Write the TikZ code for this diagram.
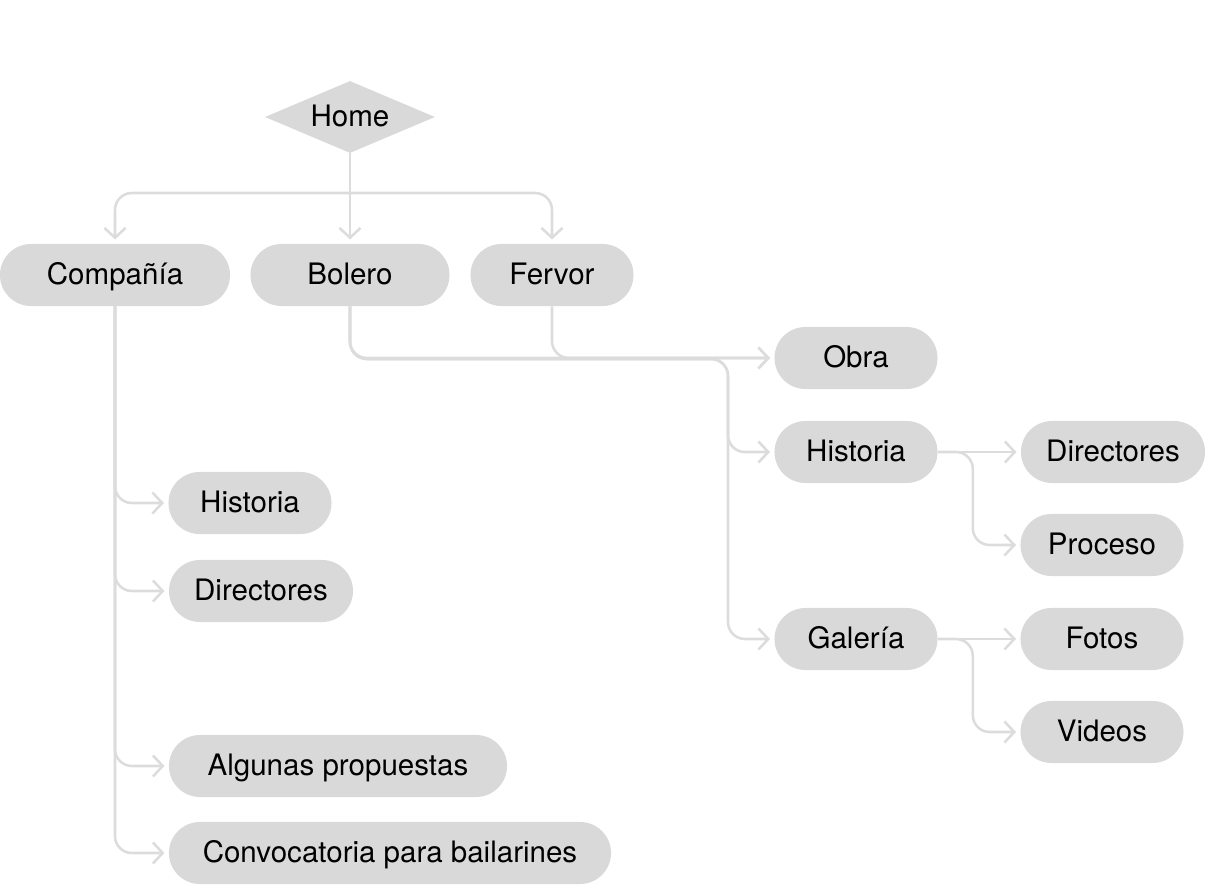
\documentclass[tikz,border=0pt]{standalone}
\usepackage{fontspec}
\setmainfont{TeX Gyre Heros}
\usetikzlibrary{shapes.geometric,arrows.meta}

\definecolor{boxgray}{HTML}{D9D9D9}
\definecolor{linegray}{HTML}{DCDCDC}

\tikzset{
  pill/.style={fill=boxgray, rounded corners=0.775cm, minimum height=1.55cm,
               inner sep=0pt, text height=15pt, text depth=2pt},
  link/.style={draw=linegray, line width=1.8pt, rounded corners=12pt,
               -{Straight Barb[length=7pt,width=15pt]}, shorten >=3pt},
}

\begin{document}
\begin{tikzpicture}[x=0.025cm, y=-0.025cm, font=\fontsize{21}{25}\selectfont]
  \useasboundingbox (0,0) rectangle (1206,886);

  \node[diamond, fill=boxgray, aspect=2.36, minimum width=4.25cm,
        minimum height=1.8cm, inner sep=0pt, text height=15pt, text depth=2pt]
        (home) at (350,117) {Home};

  \node[pill, minimum width=5.75cm]  (compania) at (115,275) {Compañía};
  \node[pill, minimum width=4.975cm] (bolero)   at (350,275) {Bolero};
  \node[pill, minimum width=4.075cm] (fervor)   at (552,275) {Fervor};

  \node[pill, minimum width=4.075cm] (obra)      at (856,358) {Obra};
  \node[pill, minimum width=4.075cm] (historiaB) at (856,452) {Historia};
  \node[pill, minimum width=4.075cm] (galeria)   at (856,639) {Galería};

  \node[pill, minimum width=4.6cm]   (directoresB) at (1113,452) {Directores};
  \node[pill, minimum width=4.075cm] (proceso)     at (1102,545) {Proceso};
  \node[pill, minimum width=4.075cm] (fotos)       at (1102,639) {Fotos};
  \node[pill, minimum width=4.075cm] (videos)      at (1102,732) {Videos};

  \node[pill, minimum width=4.075cm] (historiaA)    at (250,503) {Historia};
  \node[pill, minimum width=4.6cm]   (directoresA)  at (261,591) {Directores};
  \node[pill, minimum width=8.45cm]  (propuestas)   at (338,766) {Algunas propuestas};
  \node[pill, minimum width=11.05cm] (convocatoria) at (390,853) {Convocatoria para bailarines};

  \coordinate (hsplit) at (350,193);
  \coordinate (osplit) at (728,359);

  \draw[link] (home.south) -- (bolero.north);
  \draw[link] (hsplit) -| (compania.north);
  \draw[link] (hsplit) -| (fervor.north);

  \draw[link] (bolero.south) |- (obra.west);
  \draw[link] (fervor.south) |- (obra.west);
  \draw[link] (bolero.south) |- (osplit) |- (historiaB.west);
  \draw[link] (bolero.south) |- (osplit) |- (galeria.west);

  \draw[link] (historiaB.east) -- (directoresB.west);
  \draw[link] (historiaB.east) -- ++(35,0) |- (proceso.west);
  \draw[link] (galeria.east) -- (fotos.west);
  \draw[link] (galeria.east) -- ++(35,0) |- (videos.west);

  \draw[link] (compania.south) |- (historiaA.west);
  \draw[link] (compania.south) |- (directoresA.west);
  \draw[link] (compania.south) |- (propuestas.west);
  \draw[link] (compania.south) |- (convocatoria.west);
\end{tikzpicture}
\end{document}
